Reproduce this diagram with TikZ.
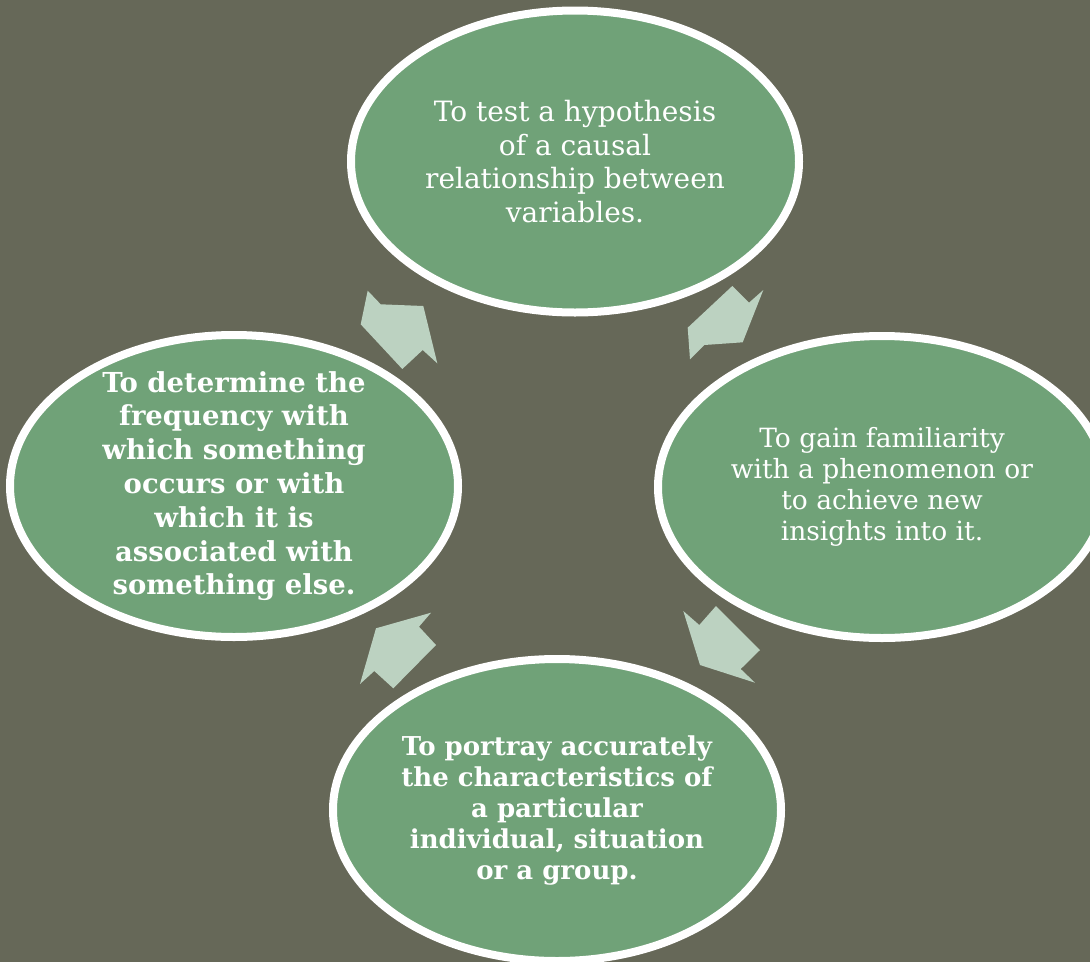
\documentclass[tikz,border=0pt]{standalone}
\usepackage{fontspec}
\setmainfont{DejaVu Serif}
\usetikzlibrary{shapes.geometric}
\definecolor{bgolive}{HTML}{666858}
\definecolor{leafgreen}{HTML}{70A278}
\definecolor{palemint}{HTML}{BCD2C1}
\tikzset{
  oval/.style={ellipse, fill=leafgreen, draw=white, line width=8pt,
    minimum width=448pt, minimum height=302pt, inner sep=0pt},
  caption/.style={text=white, align=center, inner sep=0pt},
  lighttext/.style={caption, font=\fontsize{28}{33.5}\selectfont},
  smalltext/.style={caption, font=\fontsize{26.5}{31}\selectfont},
  heavytext/.style={caption, font=\bfseries\fontsize{27.5}{33.8}\selectfont},
  heavysmall/.style={caption, font=\bfseries\fontsize{26}{31}\selectfont},
  blockarrow/.style={fill=palemint, draw=none}
}
\begin{document}
\begin{tikzpicture}[x=1pt, y=-1pt]
  \useasboundingbox (0,0) rectangle (1090,962);
  \clip (0,0) rectangle (1090,962);
  \fill[bgolive] (0,0) rectangle (1090,962);

  % four stages of the cycle
  \node[oval] (test) at (575,161.5) {};
  \node[oval] (gain) at (882,487) {};
  \node[oval] (portray) at (557,810) {};
  \node[oval] (freq) at (234,486) {};

  \node[lighttext] (testtxt) at (test)
    {To test a hypothesis\\of a causal\\relationship between\\variables.};
  \node[smalltext] (gaintxt) at (gain)
    {To gain familiarity\\with a phenomenon or\\to achieve new\\insights into it.};
  \node[heavysmall] (portraytxt) at (portray)
    {To portray accurately\\the characteristics of\\a particular\\individual, situation\\or a group.};
  \node[heavytext] (freqtxt) at (freq)
    {To determine the\\frequency with\\which something\\occurs or with\\which it is\\associated with\\something else.};

  % block arrows between the stages
  \fill[blockarrow] (367.7,290.7) -- (380.7,304.3) -- (423.3,306) -- (437.3,363.3)
    -- (422.7,350) -- (402.3,369) -- (360.7,324.3) -- cycle;
  \fill[blockarrow] (732.3,286) -- (749,302.7) -- (763.3,290) -- (742.7,342.3)
    -- (704.3,345) -- (690,359.3) -- (687.7,327.7) -- cycle;
  \fill[blockarrow] (683.3,611) -- (699.3,625) -- (716,606) -- (760,650)
    -- (740.7,669) -- (755,682.7) -- (700,665) -- cycle;
  \fill[blockarrow] (431,612.7) -- (419,626.7) -- (436,645) -- (393.3,688.3)
    -- (374.3,671) -- (360,684) -- (376,628.3) -- cycle;
\end{tikzpicture}
\end{document}
